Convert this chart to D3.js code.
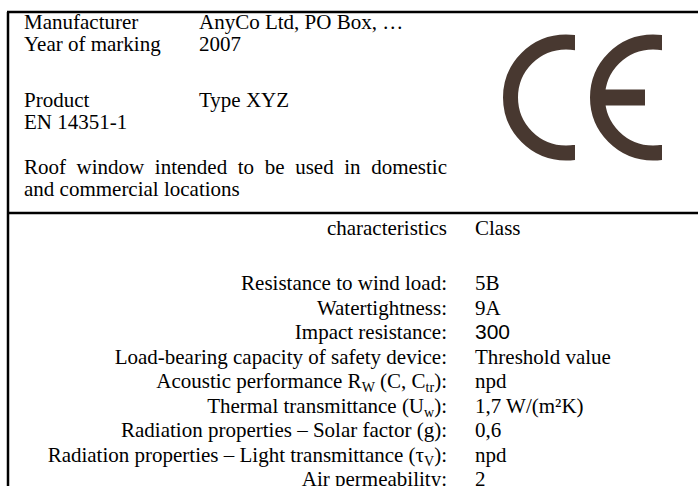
<!DOCTYPE html>
<html>
<head>
<meta charset="utf-8">
<script src="https://cdn.jsdelivr.net/npm/d3@7"></script>
<style>
  body { margin: 0; background: #fff; }
  text { font-family: 'Liberation Serif', 'Times New Roman', serif; font-size: 21px; fill: #000; }
</style>
</head>
<body>
<svg id="label" width="698" height="486"></svg>
<script>
// header block (blank strings = empty lines)
var headerLabels = ["Manufacturer", "Year of marking", "", "Product", "EN 14351-1"];
var headerValues = ["AnyCo Ltd, PO Box, \u2026", "2007", "", "Type XYZ", ""];
var intendedUse = ["Roof window intended to be used in domestic", "and commercial locations"];

// table block, _{..} marks a subscript
var characteristics = [
    "characteristics", "",
    "Resistance to wind load:",
    "Watertightness:",
    "Impact resistance:",
    "Load-bearing capacity of safety device:",
    "Acoustic performance R_{W} (C, C_{tr}):",
    "Thermal transmittance (U_{w}):",
    "Radiation properties \u2013 Solar factor (g):",
    "Radiation properties \u2013 Light transmittance (\u03c4_{V}):",
    "Air permeability:"
];
var classes = ["Class", "", "5B", "9A", "300", "Threshold value", "npd", "1,7 W/(m\u00b2K)", "0,6", "npd", "2"];

var svg = d3.select('#label');
var width = +svg.attr('width');
var height = +svg.attr('height');

var box = {left: 8, top: 12, split: 213};
var col = {label: 24, value: 199, tabEnd: 447, tabVal: 475, justify: 447};
var ceColor = '#483830';
var sans = "'Liberation Sans', Arial, sans-serif";

// line positions (header has uneven paragraph gaps)
var yHead = d3.scaleLinear().domain([0, 1]).range([29, 50.5]);
var headRow = function (i) { return i < 2 ? i : i + 0.65; };
var yTab = d3.scaleLinear().domain([0, 1]).range([235, 259.5]);
var tabRow = function (i) { return i < 2 ? i : i + 0.25; };

// frame
svg.append('line').attr('x1', box.left - 1).attr('x2', width).attr('y1', box.top).attr('y2', box.top)
    .attr('stroke', '#000').attr('stroke-width', 2.5);
svg.append('line').attr('x1', box.left).attr('x2', box.left).attr('y1', box.top).attr('y2', height)
    .attr('stroke', '#000').attr('stroke-width', 2.5);
svg.append('line').attr('x1', box.left - 1).attr('x2', width).attr('y1', box.split).attr('y2', box.split)
    .attr('stroke', '#000').attr('stroke-width', 2.5);

// header text
var head = svg.append('g');
head.selectAll('.hl').data(headerLabels).enter().append('text')
    .attr('class', 'hl')
    .attr('x', col.label)
    .attr('y', (d, i) => yHead(headRow(i)))
    .text(d => d);
head.selectAll('.hv').data(headerValues).enter().append('text')
    .attr('class', 'hv')
    .attr('x', col.value)
    .attr('y', (d, i) => yHead(headRow(i)))
    .text(d => d);

var use = head.selectAll('.use').data(intendedUse).enter().append('text')
    .attr('class', 'use')
    .attr('x', col.label)
    .attr('y', (d, i) => yHead(headRow(headerLabels.length) + 1.1 + i))
    .text(d => d);
// justify the first line like a word processor would
use.filter((d, i) => i === 0).each(function (d) {
    var w = this.getComputedTextLength();
    var gaps = d.split(' ').length - 1;
    d3.select(this).attr('word-spacing', (col.justify - col.label - w) / gaps);
});

// table text with subscripts
function addRich(sel, str) {
    var shift = 0;
    str.split(/(_\{[^}]*\})/).forEach(function (part) {
        if (!part) return;
        if (part.indexOf('_{') === 0) {
            sel.append('tspan').attr('dy', 4).style('font-size', '14px').text(part.slice(2, -1));
            shift = -4;
        } else {
            sel.append('tspan').attr('dy', shift).text(part);
            shift = 0;
        }
    });
}
var tab = svg.append('g');
tab.selectAll('.tl').data(characteristics).enter().append('text')
    .attr('class', 'tl')
    .attr('x', col.tabEnd)
    .attr('y', (d, i) => yTab(tabRow(i)))
    .attr('text-anchor', 'end')
    .each(function (d) { addRich(d3.select(this), d); });
tab.selectAll('.tv').data(classes).enter().append('text')
    .attr('class', 'tv')
    .attr('x', col.tabVal)
    .attr('y', (d, i) => yTab(tabRow(i)))
    .style('font-family', d => d === '300' ? sans : null)
    .text(d => d);

// CE mark: annulus clipped by a vertical cut
var ce = svg.append('g');
var rOut = 63, rIn = 48, cy = 97.5;
var letters = [{id: 'c', cx: 566, cut: 575, bar: 0}, {id: 'e', cx: 653, cut: 662, bar: 645}];
var defs = svg.append('defs');
letters.forEach(function (l) {
    defs.append('clipPath').attr('id', 'clip-' + l.id)
        .append('rect').attr('x', l.cx - rOut - 2).attr('y', 0).attr('width', l.cut - (l.cx - rOut - 2)).attr('height', 200);
    ce.append('circle')
        .attr('cx', l.cx).attr('cy', cy).attr('r', (rOut + rIn) / 2)
        .attr('fill', 'none').attr('stroke', ceColor).attr('stroke-width', rOut - rIn)
        .attr('clip-path', 'url(#clip-' + l.id + ')');
    if (l.bar) {
        ce.append('rect')
            .attr('x', l.cx - rIn - 1).attr('y', cy - 8)
            .attr('width', l.bar - (l.cx - rIn - 1)).attr('height', 16)
            .attr('fill', ceColor);
    }
});
</script>
</body>
</html>
